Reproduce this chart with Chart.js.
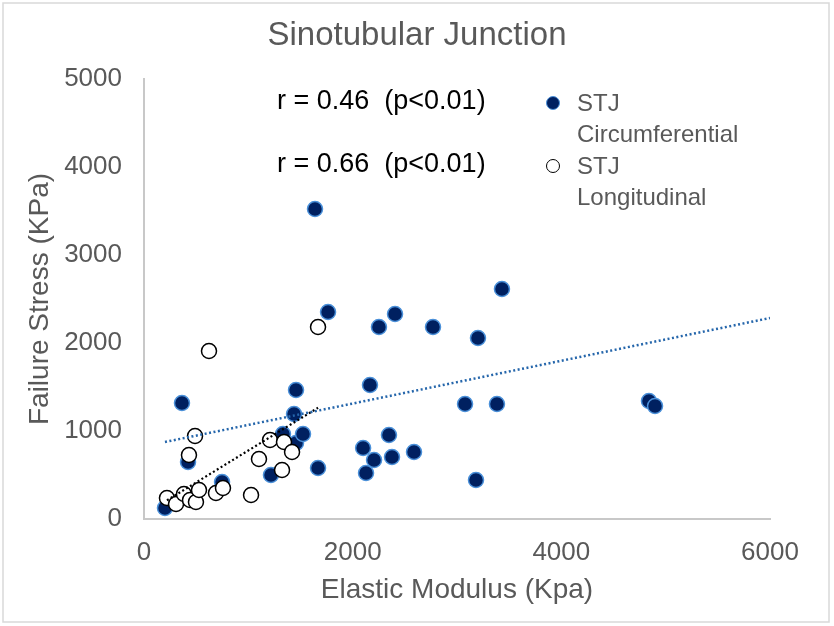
<!DOCTYPE html>
<html>
<head>
<meta charset="utf-8">
<script src="https://cdn.jsdelivr.net/npm/chart.js@4/dist/chart.umd.min.js"></script>
<style>
  body { margin: 0; background: #fff; }
  #wrap { position: relative; width: 834px; height: 626px; font-family: "Liberation Sans", Arial, sans-serif; }
  .note { position: absolute; white-space: pre; color: #000; font-size: 27px; line-height: 30px; }
  .leg { position: absolute; color: #595959; font-size: 24px; line-height: 31px; }
  .dot { position: absolute; width: 14px; height: 14px; border-radius: 50%; box-sizing: border-box; }
</style>
</head>
<body>
<div id="wrap">
  <canvas id="chart" width="834" height="626"></canvas>
  <div class="note" style="left:277px; top:85px;">r = 0.46  (p&lt;0.01)</div>
  <div class="note" style="left:277px; top:148px;">r = 0.66  (p&lt;0.01)</div>
  <div class="dot" style="left:546px; top:96px; background:#002060; border:1.5px solid #4a90d9;"></div>
  <div class="leg" style="left:577px; top:87px;">STJ<br>Circumferential</div>
  <div class="dot" style="left:546px; top:159px; background:#fff; border:1.5px solid #000;"></div>
  <div class="leg" style="left:577px; top:150px;">STJ<br>Longitudinal</div>
</div>
<script>
// values
const circX = [201, 364, 422, 748, 1217, 1332, 1438, 1457, 1457, 1524, 1639, 1668, 1764, 2100, 2128, 2166, 2205, 2252, 2348, 2377, 2406, 2588, 2770, 3077, 3182, 3201, 3383, 3431, 4840, 4898];
const circY = [125, 1318, 648, 420, 500, 966, 1193, 1466, 864, 966, 3523, 580, 2352, 807, 523, 1523, 670, 2182, 955, 705, 2330, 761, 2182, 1307, 443, 2057, 1307, 2614, 1341, 1284];
const longX = [220, 307, 383, 441, 498, 527, 690, 757, 1026, 1102, 1208, 1323, 1342, 1419, 489, 431, 623, 1668];
const longY = [239, 170, 284, 216, 193, 330, 295, 352, 273, 682, 898, 557, 875, 761, 943, 727, 1909, 2182];
// trendline end points
const circTrendX = [201, 6000];
const circTrendY = [875, 2284];
const longTrendX = [220, 1668];
const longTrendY = [212, 1264];

const xTicks = [0, 2000, 4000, 6000];
const yTicks = [0, 1000, 2000, 3000, 4000, 5000];

const pts = (xs, ys) => xs.map((x, i) => ({x: x, y: ys[i]}));
const grey = '#595959';
const font = 'Liberation Sans, Arial, sans-serif';

const frame = {
    id: 'frame',
    beforeDraw(chart) {
        const ctx = chart.ctx;
        ctx.save();
        ctx.fillStyle = '#fff';
        ctx.fillRect(0, 0, chart.width, chart.height);
        ctx.strokeStyle = '#d9d9d9';
        ctx.lineWidth = 1.5;
        ctx.strokeRect(3, 3, 826, 619);
        ctx.restore();
    }
};

new Chart(document.getElementById('chart'), {
    type: 'scatter',
    data: {
        datasets: [
            {
                label: 'trend circ',
                type: 'line',
                data: pts(circTrendX, circTrendY),
                borderColor: '#2566ab',
                borderWidth: 2.5,
                borderDash: [2, 2.5],
                pointRadius: 0,
                fill: false,
                order: 0
            },
            {
                label: 'trend long',
                type: 'line',
                data: pts(longTrendX, longTrendY),
                borderColor: '#000',
                borderWidth: 2.2,
                borderDash: [2, 2.5],
                pointRadius: 0,
                fill: false,
                order: 0
            },
            {
                label: 'STJ Longitudinal',
                data: pts(longX, longY),
                backgroundColor: '#fff',
                borderColor: '#000',
                borderWidth: 1.5,
                pointRadius: 7.5,
                order: 1
            },
            {
                label: 'STJ Circumferential',
                data: pts(circX, circY),
                backgroundColor: '#002060',
                borderColor: '#4a90d9',
                borderWidth: 1.5,
                pointRadius: 7.5,
                order: 2
            }
        ]
    },
    options: {
        responsive: false,
        animation: false,
        devicePixelRatio: 1,
        layout: { padding: 0 },
        plugins: {
            legend: { display: false },
            tooltip: { enabled: false },
            title: {
                display: true,
                text: 'Sinotubular Junction',
                color: grey,
                font: { family: font, size: 33, weight: 'normal' },
                padding: { top: 16, bottom: 23.4 }
            }
        },
        scales: {
            x: {
                type: 'linear',
                min: 0,
                max: 6000,
                afterBuildTicks: s => { s.ticks = xTicks.map(v => ({value: v})); },
                afterFit: s => { s.height = 107; s.paddingRight = 64; s.paddingLeft = 0; },
                grid: { display: false, drawTicks: false },
                border: { display: true, color: '#c8c8c8', width: 2 },
                ticks: { color: grey, font: { family: font, size: 26 }, padding: 18, maxRotation: 0, callback: v => String(v) },
                title: {
                    display: true,
                    text: 'Elastic Modulus (Kpa)',
                    color: grey,
                    font: { family: font, size: 28 },
                    padding: { top: 0, bottom: 19 }
                }
            },
            y: {
                type: 'linear',
                min: 0,
                max: 5000,
                afterBuildTicks: s => { s.ticks = yTicks.map(v => ({value: v})); },
                afterFit: s => { s.width = 144; },
                grid: { display: false, drawTicks: false },
                border: { display: true, color: '#c8c8c8', width: 2 },
                ticks: { color: grey, font: { family: font, size: 26 }, padding: 22, callback: v => String(v) },
                title: {
                    display: true,
                    text: 'Failure Stress (KPa)',
                    color: grey,
                    font: { family: font, size: 28 },
                    padding: { top: 23, bottom: 0 }
                }
            }
        }
    },
    plugins: [frame]
});
</script>
</body>
</html>
